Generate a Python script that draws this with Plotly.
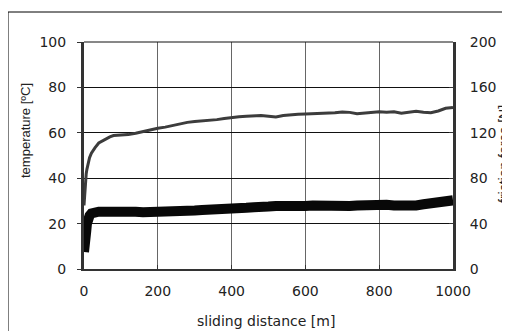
import plotly.graph_objects as go

# temperature [ºC] (grey line, left axis)
temp_x = [0, 2, 4, 6, 8, 10, 15, 20, 25, 30, 40, 50, 60, 70, 80, 100, 120, 140, 160, 180,
          200, 220, 240, 260, 280, 300, 320, 340, 360, 380, 400, 420, 440, 460, 480, 500,
          520, 540, 560, 580, 600, 620, 640, 660, 680, 700, 720, 740, 760, 780, 800, 820,
          840, 860, 880, 900, 920, 940, 960, 980, 1000]
temp_y = [28, 35, 39, 42, 44, 46, 49, 51, 52.5, 53.5, 55.5, 56.5, 57.5, 58.2, 58.8, 59, 59.2, 59.8, 60.6, 61.3,
          62, 62.5, 63.2, 64, 64.6, 65, 65.2, 65.4, 65.8, 66.3, 66.8, 67.1, 67.3, 67.4, 67.6, 67.3,
          67, 67.6, 68, 68.2, 68.3, 68.4, 68.3, 68.5, 68.8, 69.2, 69, 68.4, 68.8, 69.1, 69.3, 69.1,
          69.3, 68.6, 69.1, 69.5, 69.1, 68.8, 69.6, 70.8, 71.2]

# friction force [N] (thick black line, right axis)
fric_x = [0, 2, 4, 6, 8, 10, 15, 20, 30, 40, 60, 80, 100, 120, 140, 160, 180, 200, 220, 240,
          260, 280, 300, 320, 340, 360, 380, 400, 420, 440, 460, 480, 500, 520, 540, 560, 580,
          600, 620, 640, 660, 680, 700, 720, 740, 760, 780, 800, 820, 840, 860, 880, 900, 920,
          940, 960, 980, 1000]
fric_y = [15, 18, 25, 33, 40, 44, 47, 49, 50, 50.5, 50.5, 51, 51, 50.5, 50.5, 50, 50, 49.5, 50, 50,
          50.5, 51, 51.5, 52, 52, 52.5, 53, 53.5, 54, 54, 54.5, 54, 55, 55.5, 55, 55.5, 55,
          55.5, 56, 55.5, 56, 56.5, 56, 55.5, 56, 56.5, 56, 56, 56.5, 56, 55.5, 56.5, 56, 57,
          57.5, 58.5, 59.5, 60.5]

x_ticks = [0, 200, 400, 600, 800, 1000]
left_ticks = [0, 20, 40, 60, 80, 100]
right_ticks = [0, 40, 80, 120, 160, 200]

FONT = "DejaVu Sans, Liberation Sans, Arial, sans-serif"
VFONT = "Liberation Sans, Arial, sans-serif"

fig = go.Figure()
fig.add_trace(go.Scatter(x=fric_x, y=fric_y, yaxis="y2", mode="lines",
                         line=dict(color="#080808", width=10), showlegend=False))
fig.add_trace(go.Scatter(x=temp_x, y=temp_y, mode="lines",
                         line=dict(color="#3c3c3c", width=3), showlegend=False))

OFF = 8  # page offset
L, T = 84 - OFF, 42 - OFF
W, H = 510 - OFF, 331 - OFF
pw, ph = 369, 227
R, B = W - L - pw, H - T - ph


def px(xp):
    return (xp - OFF - L) / pw


def py(yp):
    return 1 - (yp - OFF - T) / ph


fig.update_layout(
    width=W, height=H,
    margin=dict(l=L, r=R, t=T, b=B, pad=0),
    paper_bgcolor="white", plot_bgcolor="white",
    font=dict(family=FONT, size=14, color="#222"),
    xaxis=dict(range=[0, 1000], tickvals=x_ticks, showgrid=True, gridcolor="#666", gridwidth=1,
               zeroline=False, showline=True, linecolor="#333", linewidth=2,
               ticks="inside", ticklen=4, tickcolor="#333", ticklabelstandoff=8,
               tickfont=dict(size=14)),
    yaxis=dict(range=[0, 100], tickvals=left_ticks, showgrid=True, gridcolor="#111", gridwidth=1,
               zeroline=False, showline=True, linecolor="#333", linewidth=3, mirror=False,
               ticks="outside", ticklen=4, tickcolor="#333", ticklabelstandoff=8,
               tickfont=dict(size=14)),
    yaxis2=dict(range=[0, 200], tickvals=right_ticks, overlaying="y", side="right",
                showgrid=False, zeroline=False, showline=True, linecolor="#333", linewidth=3,
                ticks="inside", ticklen=4, tickcolor="#333", ticklabelstandoff=11,
                tickfont=dict(size=14)),
)

# top frame line at 100
fig.add_shape(type="line", xref="paper", yref="paper", x0=0, x1=1, y0=1, y1=1,
              line=dict(color="#111", width=1))

# outer figure border
fig.add_shape(type="rect", xref="paper", yref="paper",
              x0=px(8), x1=px(520), y0=py(340), y1=py(12),
              line=dict(color="black", width=1), layer="below")

fig.add_annotation(text="temperature [ºC]", xref="paper", yref="paper",
                   x=px(26), y=py(131), textangle=-90, showarrow=False,
                   font=dict(family=VFONT, size=13, color="#222"), xanchor="center", yanchor="middle")
fig.add_annotation(text="friction force [N]", xref="paper", yref="paper",
                   x=px(504), y=py(154), textangle=-90, showarrow=False,
                   font=dict(family=VFONT, size=14, color="#222"), xanchor="center", yanchor="middle")
fig.add_annotation(text="sliding distance [m]", xref="paper", yref="paper",
                   x=px(266), y=py(321), showarrow=False,
                   font=dict(family=FONT, size=14, color="#222"), xanchor="center", yanchor="middle")

fig.write_html("out.html")
